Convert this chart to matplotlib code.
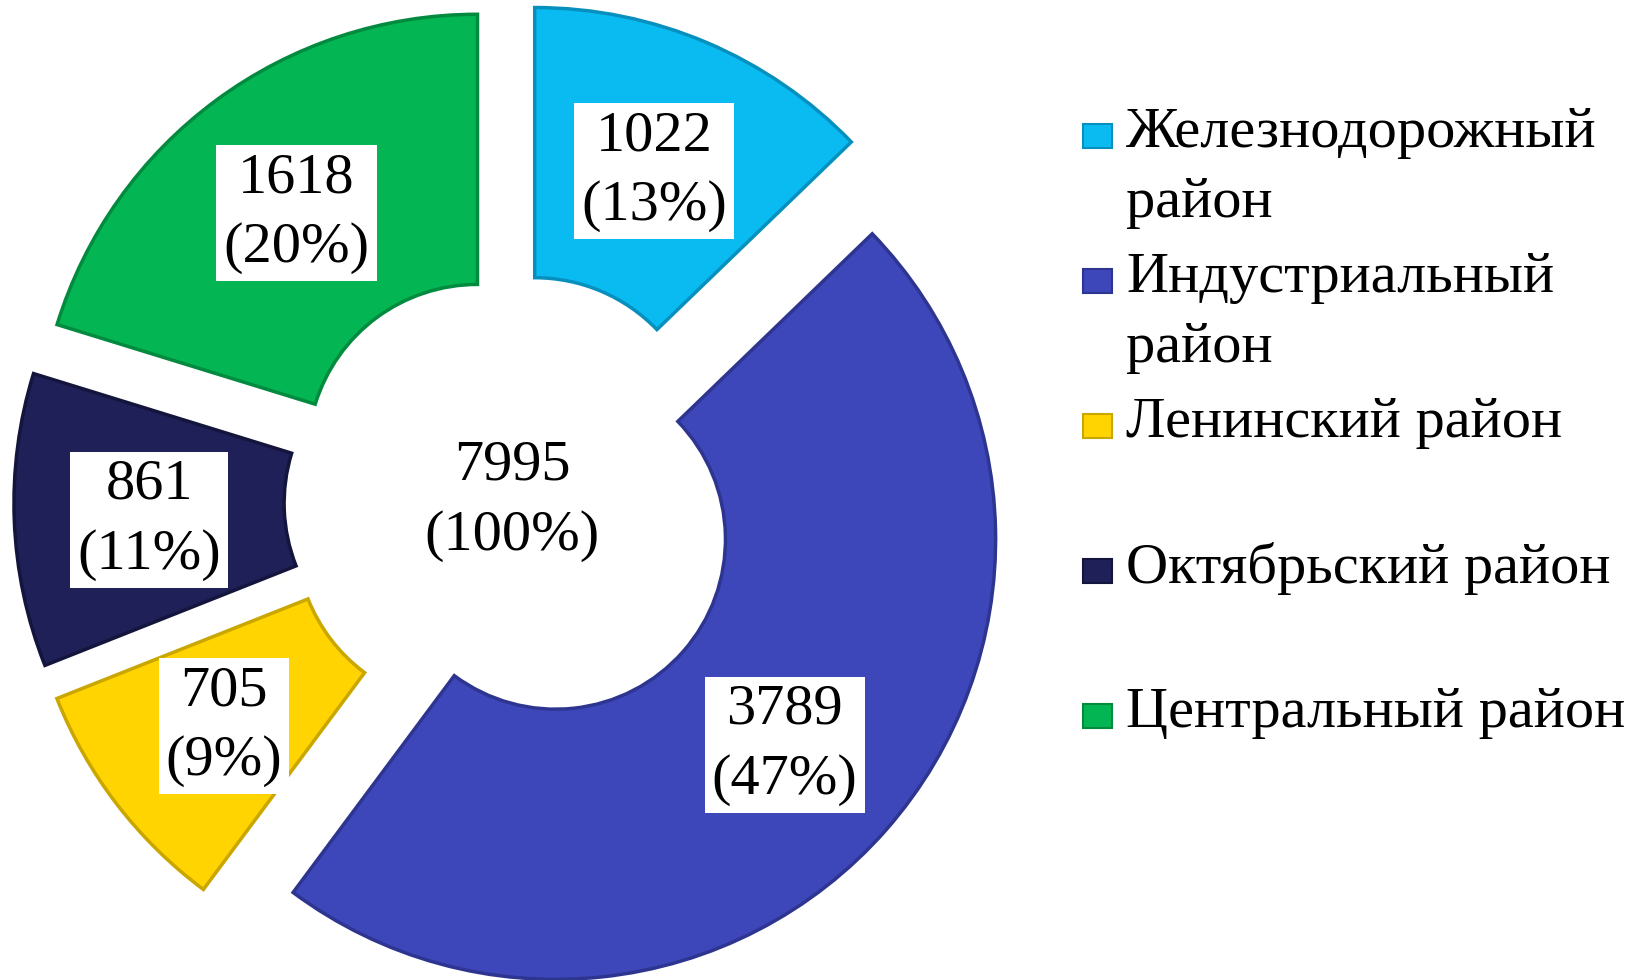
import numpy as np
import matplotlib.pyplot as plt
from matplotlib.patches import Rectangle

# Данные
districts = ["Железнодорожный\nрайон", "Индустриальный\nрайон", "Ленинский район",
             "Октябрьский район", "Центральный район"]
counts = [1022, 3789, 705, 861, 1618]
shares = [13, 47, 9, 11, 20]
total = 7995
total_share = 100

colors = ["#0ABBF2", "#3E47BA", "#FFD400", "#1F2058", "#03B553"]
edges = ["#0790BD", "#2D3590", "#C9A600", "#14153D", "#028A3F"]

W, H = 1645, 980
R = 440          # внешний радиус, px
cx, cy = 512, 501
font = "Liberation Serif"
fs = 42
ls = 1.45

fig = plt.figure(figsize=(W / 100, H / 100), dpi=100)
ax = fig.add_axes([0, 0, 1, 1])

wedges, _ = ax.pie(counts, colors=colors, startangle=90, counterclock=False,
                   explode=[0.132] * len(counts), radius=1,
                   wedgeprops=dict(width=0.614, linewidth=2.5))
for w, ec in zip(wedges, edges):
    w.set_edgecolor(ec)

ax.set_aspect("auto")
ax.set_xlim(-cx / R, (W - cx) / R)
ax.set_ylim(-(H - cy) / R, cy / R)
ax.axis("off")

# Подписи на секторах
for w, n, p in zip(wedges, counts, shares):
    ang = np.deg2rad((w.theta1 + w.theta2) / 2)
    rm = w.r - w.width / 2
    x = w.center[0] + rm * np.cos(ang)
    y = w.center[1] + rm * np.sin(ang)
    ax.text(x, y - 0.01, f"{n}\n({p}%)", ha="center", va="center", fontsize=fs,
            family=font, linespacing=ls,
            bbox=dict(boxstyle="square,pad=0.12", fc="white", ec="none"))

ax.text(0, 0.0, f"{total}\n({total_share}%)", ha="center", va="center",
        fontsize=fs, family=font, linespacing=ls)

# Легенда
y0, step = 136, 145
for i, (lab, c, ec) in enumerate(zip(districts, colors, edges)):
    yc = y0 + i * step
    fig.patches.append(Rectangle((1083 / W, 1 - (yc + 12) / H), 29 / W, 24 / H,
                                 transform=fig.transFigure, fc=c, ec=ec, lw=1.5))
    fig.text(1126 / W, 1 - (yc - 29) / H, lab, ha="left", va="top", fontsize=fs,
             family=font, linespacing=ls)

fig.savefig("out.png", dpi=100, facecolor="white")
